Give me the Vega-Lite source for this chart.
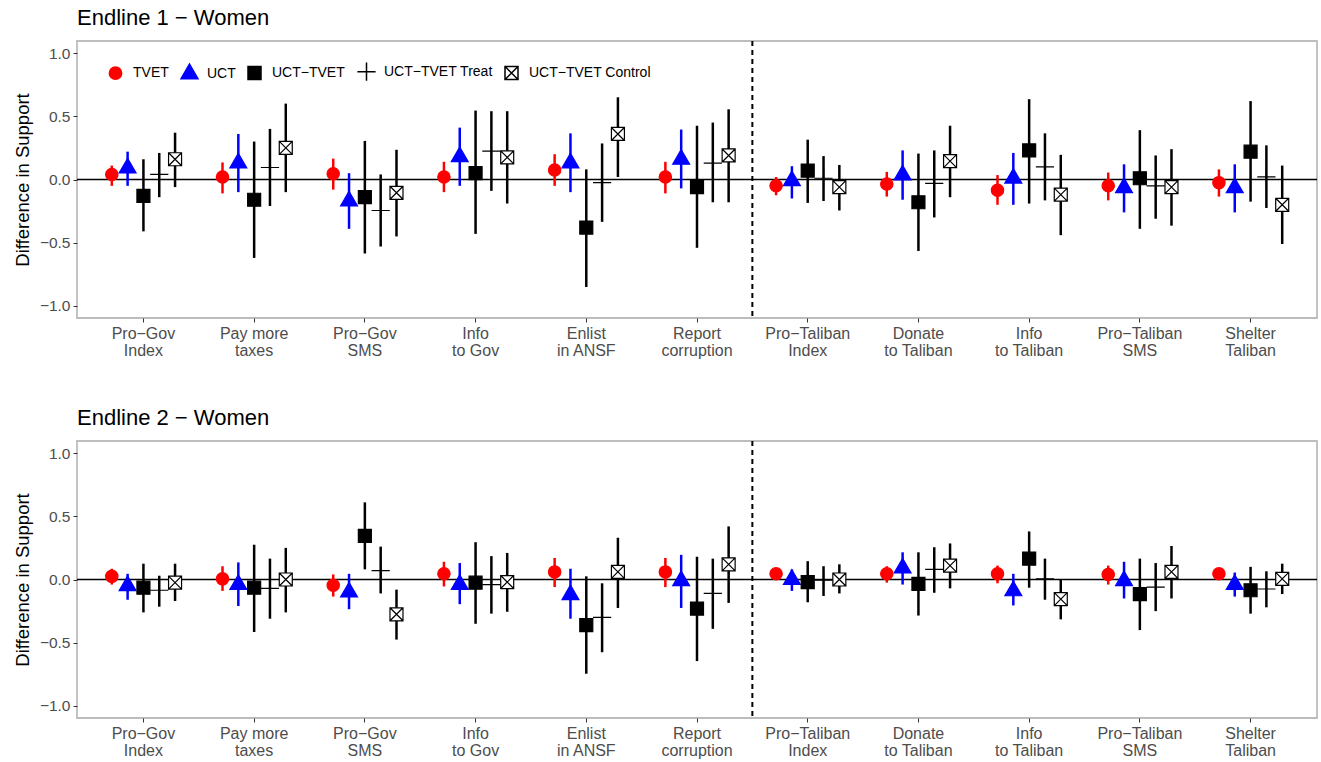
{
  "$schema": "https://vega.github.io/schema/vega-lite/v6.json",
  "padding": {"left": 12, "top": 6, "right": 0, "bottom": 0},
  "spacing": 47,
  "datasets": {
    "e1": [
      {"cat": "Pro−Gov|Index", "s": "TVET", "est": 0.04, "lo": -0.05, "hi": 0.11},
      {"cat": "Pro−Gov|Index", "s": "UCT", "est": 0.09, "lo": -0.05, "hi": 0.22},
      {"cat": "Pro−Gov|Index", "s": "UCT−TVET", "est": -0.13, "lo": -0.41, "hi": 0.16},
      {"cat": "Pro−Gov|Index", "s": "UCT−TVET Treat", "est": 0.04, "lo": -0.14, "hi": 0.21},
      {"cat": "Pro−Gov|Index", "s": "UCT−TVET Control", "est": 0.16, "lo": -0.06, "hi": 0.37},
      {"cat": "Pay more|taxes", "s": "TVET", "est": 0.02, "lo": -0.11, "hi": 0.135},
      {"cat": "Pay more|taxes", "s": "UCT", "est": 0.13, "lo": -0.1, "hi": 0.36},
      {"cat": "Pay more|taxes", "s": "UCT−TVET", "est": -0.16, "lo": -0.62, "hi": 0.3},
      {"cat": "Pay more|taxes", "s": "UCT−TVET Treat", "est": 0.095, "lo": -0.21, "hi": 0.4},
      {"cat": "Pay more|taxes", "s": "UCT−TVET Control", "est": 0.25, "lo": -0.1, "hi": 0.6},
      {"cat": "Pro−Gov|SMS", "s": "TVET", "est": 0.045, "lo": -0.08, "hi": 0.165},
      {"cat": "Pro−Gov|SMS", "s": "UCT", "est": -0.17, "lo": -0.39, "hi": 0.05},
      {"cat": "Pro−Gov|SMS", "s": "UCT−TVET", "est": -0.14, "lo": -0.585, "hi": 0.305},
      {"cat": "Pro−Gov|SMS", "s": "UCT−TVET Treat", "est": -0.245, "lo": -0.53, "hi": 0.04},
      {"cat": "Pro−Gov|SMS", "s": "UCT−TVET Control", "est": -0.105, "lo": -0.45, "hi": 0.235},
      {"cat": "Info|to Gov", "s": "TVET", "est": 0.02, "lo": -0.1, "hi": 0.14},
      {"cat": "Info|to Gov", "s": "UCT", "est": 0.18, "lo": -0.05, "hi": 0.41},
      {"cat": "Info|to Gov", "s": "UCT−TVET", "est": 0.05, "lo": -0.43, "hi": 0.545},
      {"cat": "Info|to Gov", "s": "UCT−TVET Treat", "est": 0.225, "lo": -0.09, "hi": 0.54},
      {"cat": "Info|to Gov", "s": "UCT−TVET Control", "est": 0.175, "lo": -0.19, "hi": 0.54},
      {"cat": "Enlist|in ANSF", "s": "TVET", "est": 0.075, "lo": -0.05, "hi": 0.2},
      {"cat": "Enlist|in ANSF", "s": "UCT", "est": 0.13, "lo": -0.1, "hi": 0.365},
      {"cat": "Enlist|in ANSF", "s": "UCT−TVET", "est": -0.38, "lo": -0.85, "hi": 0.08},
      {"cat": "Enlist|in ANSF", "s": "UCT−TVET Treat", "est": -0.025, "lo": -0.335, "hi": 0.285},
      {"cat": "Enlist|in ANSF", "s": "UCT−TVET Control", "est": 0.36, "lo": 0.02, "hi": 0.65},
      {"cat": "Report|corruption", "s": "TVET", "est": 0.02, "lo": -0.11, "hi": 0.14},
      {"cat": "Report|corruption", "s": "UCT", "est": 0.16, "lo": -0.07, "hi": 0.395},
      {"cat": "Report|corruption", "s": "UCT−TVET", "est": -0.06, "lo": -0.54, "hi": 0.425},
      {"cat": "Report|corruption", "s": "UCT−TVET Treat", "est": 0.13, "lo": -0.18, "hi": 0.45},
      {"cat": "Report|corruption", "s": "UCT−TVET Control", "est": 0.19, "lo": -0.18, "hi": 0.555},
      {"cat": "Pro−Taliban|Index", "s": "TVET", "est": -0.05, "lo": -0.125, "hi": 0.02},
      {"cat": "Pro−Taliban|Index", "s": "UCT", "est": -0.01, "lo": -0.15, "hi": 0.105},
      {"cat": "Pro−Taliban|Index", "s": "UCT−TVET", "est": 0.07, "lo": -0.185, "hi": 0.315},
      {"cat": "Pro−Taliban|Index", "s": "UCT−TVET Treat", "est": 0.01, "lo": -0.17, "hi": 0.185},
      {"cat": "Pro−Taliban|Index", "s": "UCT−TVET Control", "est": -0.06, "lo": -0.245, "hi": 0.115},
      {"cat": "Donate|to Taliban", "s": "TVET", "est": -0.035, "lo": -0.135, "hi": 0.06},
      {"cat": "Donate|to Taliban", "s": "UCT", "est": 0.035, "lo": -0.16, "hi": 0.23},
      {"cat": "Donate|to Taliban", "s": "UCT−TVET", "est": -0.18, "lo": -0.565, "hi": 0.205},
      {"cat": "Donate|to Taliban", "s": "UCT−TVET Treat", "est": -0.03, "lo": -0.3, "hi": 0.23},
      {"cat": "Donate|to Taliban", "s": "UCT−TVET Control", "est": 0.145, "lo": -0.14, "hi": 0.425},
      {"cat": "Info|to Taliban", "s": "TVET", "est": -0.085, "lo": -0.2, "hi": 0.035},
      {"cat": "Info|to Taliban", "s": "UCT", "est": 0.01, "lo": -0.2, "hi": 0.21},
      {"cat": "Info|to Taliban", "s": "UCT−TVET", "est": 0.23, "lo": -0.19, "hi": 0.635},
      {"cat": "Info|to Taliban", "s": "UCT−TVET Treat", "est": 0.1, "lo": -0.165, "hi": 0.365},
      {"cat": "Info|to Taliban", "s": "UCT−TVET Control", "est": -0.12, "lo": -0.44, "hi": 0.195},
      {"cat": "Pro−Taliban|SMS", "s": "TVET", "est": -0.05, "lo": -0.165, "hi": 0.055},
      {"cat": "Pro−Taliban|SMS", "s": "UCT", "est": -0.065, "lo": -0.26, "hi": 0.12},
      {"cat": "Pro−Taliban|SMS", "s": "UCT−TVET", "est": 0.01, "lo": -0.39, "hi": 0.39},
      {"cat": "Pro−Taliban|SMS", "s": "UCT−TVET Treat", "est": -0.05, "lo": -0.31, "hi": 0.19},
      {"cat": "Pro−Taliban|SMS", "s": "UCT−TVET Control", "est": -0.06, "lo": -0.365, "hi": 0.24},
      {"cat": "Shelter|Taliban", "s": "TVET", "est": -0.025, "lo": -0.135, "hi": 0.08},
      {"cat": "Shelter|Taliban", "s": "UCT", "est": -0.065, "lo": -0.26, "hi": 0.12},
      {"cat": "Shelter|Taliban", "s": "UCT−TVET", "est": 0.22, "lo": -0.175, "hi": 0.62},
      {"cat": "Shelter|Taliban", "s": "UCT−TVET Treat", "est": 0.02, "lo": -0.225, "hi": 0.27},
      {"cat": "Shelter|Taliban", "s": "UCT−TVET Control", "est": -0.2, "lo": -0.51, "hi": 0.11}
    ],
    "e2": [
      {"cat": "Pro−Gov|Index", "s": "TVET", "est": 0.025, "lo": -0.04, "hi": 0.085},
      {"cat": "Pro−Gov|Index", "s": "UCT", "est": -0.05, "lo": -0.16, "hi": 0.045},
      {"cat": "Pro−Gov|Index", "s": "UCT−TVET", "est": -0.065, "lo": -0.26, "hi": 0.125},
      {"cat": "Pro−Gov|Index", "s": "UCT−TVET Treat", "est": -0.085, "lo": -0.215, "hi": 0.03},
      {"cat": "Pro−Gov|Index", "s": "UCT−TVET Control", "est": -0.025, "lo": -0.17, "hi": 0.125},
      {"cat": "Pay more|taxes", "s": "TVET", "est": 0.005, "lo": -0.09, "hi": 0.105},
      {"cat": "Pay more|taxes", "s": "UCT", "est": -0.04, "lo": -0.21, "hi": 0.135},
      {"cat": "Pay more|taxes", "s": "UCT−TVET", "est": -0.065, "lo": -0.415, "hi": 0.275},
      {"cat": "Pay more|taxes", "s": "UCT−TVET Treat", "est": -0.07, "lo": -0.31, "hi": 0.165},
      {"cat": "Pay more|taxes", "s": "UCT−TVET Control", "est": 0.0, "lo": -0.26, "hi": 0.25},
      {"cat": "Pro−Gov|SMS", "s": "TVET", "est": -0.045, "lo": -0.135, "hi": 0.04},
      {"cat": "Pro−Gov|SMS", "s": "UCT", "est": -0.1, "lo": -0.235, "hi": 0.045},
      {"cat": "Pro−Gov|SMS", "s": "UCT−TVET", "est": 0.345, "lo": 0.08, "hi": 0.61},
      {"cat": "Pro−Gov|SMS", "s": "UCT−TVET Treat", "est": 0.07, "lo": -0.11, "hi": 0.26},
      {"cat": "Pro−Gov|SMS", "s": "UCT−TVET Control", "est": -0.275, "lo": -0.475, "hi": -0.08},
      {"cat": "Info|to Gov", "s": "TVET", "est": 0.045, "lo": -0.055, "hi": 0.14},
      {"cat": "Info|to Gov", "s": "UCT", "est": -0.04, "lo": -0.195, "hi": 0.13},
      {"cat": "Info|to Gov", "s": "UCT−TVET", "est": -0.025, "lo": -0.35, "hi": 0.295},
      {"cat": "Info|to Gov", "s": "UCT−TVET Treat", "est": -0.04, "lo": -0.27, "hi": 0.185},
      {"cat": "Info|to Gov", "s": "UCT−TVET Control", "est": -0.02, "lo": -0.255, "hi": 0.21},
      {"cat": "Enlist|in ANSF", "s": "TVET", "est": 0.06, "lo": -0.06, "hi": 0.17},
      {"cat": "Enlist|in ANSF", "s": "UCT", "est": -0.12, "lo": -0.31, "hi": 0.085},
      {"cat": "Enlist|in ANSF", "s": "UCT−TVET", "est": -0.36, "lo": -0.745, "hi": 0.025},
      {"cat": "Enlist|in ANSF", "s": "UCT−TVET Treat", "est": -0.3, "lo": -0.575, "hi": -0.03},
      {"cat": "Enlist|in ANSF", "s": "UCT−TVET Control", "est": 0.06, "lo": -0.225, "hi": 0.33},
      {"cat": "Report|corruption", "s": "TVET", "est": 0.06, "lo": -0.06, "hi": 0.17},
      {"cat": "Report|corruption", "s": "UCT", "est": -0.01, "lo": -0.225, "hi": 0.195},
      {"cat": "Report|corruption", "s": "UCT−TVET", "est": -0.23, "lo": -0.645, "hi": 0.18},
      {"cat": "Report|corruption", "s": "UCT−TVET Treat", "est": -0.11, "lo": -0.39, "hi": 0.165},
      {"cat": "Report|corruption", "s": "UCT−TVET Control", "est": 0.12, "lo": -0.185, "hi": 0.42},
      {"cat": "Pro−Taliban|Index", "s": "TVET", "est": 0.045, "lo": 0.01, "hi": 0.08},
      {"cat": "Pro−Taliban|Index", "s": "UCT", "est": 0.0, "lo": -0.09, "hi": 0.08},
      {"cat": "Pro−Taliban|Index", "s": "UCT−TVET", "est": -0.02, "lo": -0.18, "hi": 0.145},
      {"cat": "Pro−Taliban|Index", "s": "UCT−TVET Treat", "est": -0.005, "lo": -0.13, "hi": 0.105},
      {"cat": "Pro−Taliban|Index", "s": "UCT−TVET Control", "est": 0.0, "lo": -0.11, "hi": 0.12},
      {"cat": "Donate|to Taliban", "s": "TVET", "est": 0.045, "lo": -0.025, "hi": 0.105},
      {"cat": "Donate|to Taliban", "s": "UCT", "est": 0.09, "lo": -0.04, "hi": 0.215},
      {"cat": "Donate|to Taliban", "s": "UCT−TVET", "est": -0.035, "lo": -0.285, "hi": 0.215},
      {"cat": "Donate|to Taliban", "s": "UCT−TVET Treat", "est": 0.08, "lo": -0.105, "hi": 0.255},
      {"cat": "Donate|to Taliban", "s": "UCT−TVET Control", "est": 0.11, "lo": -0.07, "hi": 0.285},
      {"cat": "Info|to Taliban", "s": "TVET", "est": 0.045, "lo": -0.03, "hi": 0.11},
      {"cat": "Info|to Taliban", "s": "UCT", "est": -0.09, "lo": -0.205, "hi": 0.045},
      {"cat": "Info|to Taliban", "s": "UCT−TVET", "est": 0.165, "lo": -0.065, "hi": 0.38},
      {"cat": "Info|to Taliban", "s": "UCT−TVET Treat", "est": 0.005, "lo": -0.16, "hi": 0.165},
      {"cat": "Info|to Taliban", "s": "UCT−TVET Control", "est": -0.155, "lo": -0.315, "hi": 0.0},
      {"cat": "Pro−Taliban|SMS", "s": "TVET", "est": 0.04, "lo": -0.04, "hi": 0.11},
      {"cat": "Pro−Taliban|SMS", "s": "UCT", "est": -0.01, "lo": -0.15, "hi": 0.14},
      {"cat": "Pro−Taliban|SMS", "s": "UCT−TVET", "est": -0.115, "lo": -0.4, "hi": 0.165},
      {"cat": "Pro−Taliban|SMS", "s": "UCT−TVET Treat", "est": -0.06, "lo": -0.25, "hi": 0.13},
      {"cat": "Pro−Taliban|SMS", "s": "UCT−TVET Control", "est": 0.06, "lo": -0.15, "hi": 0.265},
      {"cat": "Shelter|Taliban", "s": "TVET", "est": 0.045, "lo": 0.015, "hi": 0.065},
      {"cat": "Shelter|Taliban", "s": "UCT", "est": -0.04, "lo": -0.135, "hi": 0.055},
      {"cat": "Shelter|Taliban", "s": "UCT−TVET", "est": -0.085, "lo": -0.27, "hi": 0.1},
      {"cat": "Shelter|Taliban", "s": "UCT−TVET Treat", "est": -0.075, "lo": -0.22, "hi": 0.065},
      {"cat": "Shelter|Taliban", "s": "UCT−TVET Control", "est": 0.005, "lo": -0.115, "hi": 0.125}
    ]
  },
  "resolve": {
    "scale": {"color": "independent", "stroke": "independent", "fill": "independent", "shape": "independent"},
    "legend": {"color": "independent", "stroke": "independent", "fill": "independent", "shape": "independent"}
  },
  "vconcat": [
    {
      "width": 1240,
      "height": 277,
      "title": {"text": "Endline 1 − Women"},
      "layer": [
        {
          "data": {"values": [{"ref": 0}]},
          "mark": {"type": "rule", "color": "black", "strokeWidth": 1.5},
          "encoding": {"y": {"field": "ref", "type": "quantitative", "scale": {"domain": [-1.095, 1.095], "nice": false, "zero": false}, "axis": {"title": "Difference in Support", "values": [-1, -0.5, 0, 0.5, 1], "format": ".1f"}}}
        },
        {
          "data": {"values": [{"split": "Pro−Taliban|Index"}]},
          "mark": {"type": "rule", "color": "black", "strokeWidth": 2, "strokeDash": [5, 4]},
          "encoding": {"x": {"field": "split", "type": "nominal", "bandPosition": 0, "scale": {"domain": ["Pro−Gov|Index", "Pay more|taxes", "Pro−Gov|SMS", "Info|to Gov", "Enlist|in ANSF", "Report|corruption", "Pro−Taliban|Index", "Donate|to Taliban", "Info|to Taliban", "Pro−Taliban|SMS", "Shelter|Taliban"]}}}
        },
        {
          "data": {"name": "e1"},
          "mark": {"type": "rule", "strokeWidth": 2.5},
          "encoding": {
            "x": {"field": "cat", "type": "nominal", "scale": {"domain": ["Pro−Gov|Index", "Pay more|taxes", "Pro−Gov|SMS", "Info|to Gov", "Enlist|in ANSF", "Report|corruption", "Pro−Taliban|Index", "Donate|to Taliban", "Info|to Taliban", "Pro−Taliban|SMS", "Shelter|Taliban"]}},
            "xOffset": {"field": "s", "type": "nominal", "scale": {"domain": ["TVET", "UCT", "UCT−TVET", "UCT−TVET Treat", "UCT−TVET Control"]}},
            "y": {"field": "lo", "type": "quantitative", "axis": {"title": "Difference in Support", "values": [-1, -0.5, 0, 0.5, 1], "format": ".1f"}},
            "y2": {"field": "hi"},
            "color": {"field": "s", "type": "nominal", "legend": null, "scale": {"domain": ["UCT−TVET Control", "UCT−TVET Treat", "UCT−TVET", "UCT", "TVET"], "range": ["#000000", "#000000", "#000000", "#0000ff", "#ff0000"]}}
          }
        },
        {
          "data": {"name": "e1"},
          "mark": {"type": "point", "filled": true, "opacity": 1, "strokeWidth": 1.2, "size": 169},
          "encoding": {
            "x": {"field": "cat", "type": "nominal", "scale": {"domain": ["Pro−Gov|Index", "Pay more|taxes", "Pro−Gov|SMS", "Info|to Gov", "Enlist|in ANSF", "Report|corruption", "Pro−Taliban|Index", "Donate|to Taliban", "Info|to Taliban", "Pro−Taliban|SMS", "Shelter|Taliban"]}},
            "xOffset": {"field": "s", "type": "nominal", "scale": {"domain": ["TVET", "UCT", "UCT−TVET", "UCT−TVET Treat", "UCT−TVET Control"]}},
            "y": {"field": "est", "type": "quantitative", "axis": {"title": "Difference in Support", "values": [-1, -0.5, 0, 0.5, 1], "format": ".1f"}},
            "stroke": {"field": "s", "type": "nominal", "scale": {"domain": ["TVET", "UCT", "UCT−TVET", "UCT−TVET Treat", "UCT−TVET Control"], "range": ["#ff0000", "#0000ff", "#000000", "#000000", "#000000"]},
              "legend": {"title": null, "orient": "none", "legendX": 31, "legendY": 23, "direction": "horizontal", "symbolSize": 169, "labelFontSize": 14, "labelFont": "Liberation Sans", "labelColor": "black", "labelOffset": 10, "columnPadding": 9, "padding": 0, "symbolStrokeWidth": 1.5}},
            "fill": {"field": "s", "type": "nominal", "scale": {"domain": ["TVET", "UCT", "UCT−TVET", "UCT−TVET Treat", "UCT−TVET Control"], "range": ["#ff0000", "#0000ff", "#000000", "#000000", "#ffffff"]},
              "legend": {"title": null, "orient": "none", "legendX": 31, "legendY": 23, "direction": "horizontal", "symbolSize": 169, "labelFontSize": 14, "labelFont": "Liberation Sans", "labelColor": "black", "labelOffset": 10, "columnPadding": 9, "padding": 0, "symbolStrokeWidth": 1.5}},
            "shape": {"field": "s", "type": "nominal",
              "scale": {"domain": ["TVET", "UCT", "UCT−TVET", "UCT−TVET Treat", "UCT−TVET Control"], "range": ["M0.95,0A0.95,0.95,0,1,1,-0.95,0A0.95,0.95,0,1,1,0.95,0Z", "M0,-1.5L1.3,0.75L-1.3,0.75Z", "M-1,-1H1V1H-1Z", "M-1.4,0H1.4M0,-1.4V1.4", "M-1,-1H1V1H-1ZM-1,-1L1,1M-1,1L1,-1"]},
              "legend": {"title": null, "orient": "none", "legendX": 31, "legendY": 23, "direction": "horizontal", "symbolSize": 169, "labelFontSize": 14, "labelFont": "Liberation Sans", "labelColor": "black", "labelOffset": 10, "columnPadding": 9, "padding": 0, "symbolStrokeWidth": 1.5}}
          }
        }
      ]
    },
    {
      "width": 1240,
      "height": 277,
      "title": {"text": "Endline 2 − Women"},
      "layer": [
        {
          "data": {"values": [{"ref": 0}]},
          "mark": {"type": "rule", "color": "black", "strokeWidth": 1.5},
          "encoding": {"y": {"field": "ref", "type": "quantitative", "scale": {"domain": [-1.095, 1.095], "nice": false, "zero": false}, "axis": {"title": "Difference in Support", "values": [-1, -0.5, 0, 0.5, 1], "format": ".1f"}}}
        },
        {
          "data": {"values": [{"split": "Pro−Taliban|Index"}]},
          "mark": {"type": "rule", "color": "black", "strokeWidth": 2, "strokeDash": [5, 4]},
          "encoding": {"x": {"field": "split", "type": "nominal", "bandPosition": 0, "scale": {"domain": ["Pro−Gov|Index", "Pay more|taxes", "Pro−Gov|SMS", "Info|to Gov", "Enlist|in ANSF", "Report|corruption", "Pro−Taliban|Index", "Donate|to Taliban", "Info|to Taliban", "Pro−Taliban|SMS", "Shelter|Taliban"]}}}
        },
        {
          "data": {"name": "e2"},
          "mark": {"type": "rule", "strokeWidth": 2.5},
          "encoding": {
            "x": {"field": "cat", "type": "nominal", "scale": {"domain": ["Pro−Gov|Index", "Pay more|taxes", "Pro−Gov|SMS", "Info|to Gov", "Enlist|in ANSF", "Report|corruption", "Pro−Taliban|Index", "Donate|to Taliban", "Info|to Taliban", "Pro−Taliban|SMS", "Shelter|Taliban"]}},
            "xOffset": {"field": "s", "type": "nominal", "scale": {"domain": ["TVET", "UCT", "UCT−TVET", "UCT−TVET Treat", "UCT−TVET Control"]}},
            "y": {"field": "lo", "type": "quantitative", "axis": {"title": "Difference in Support", "values": [-1, -0.5, 0, 0.5, 1], "format": ".1f"}},
            "y2": {"field": "hi"},
            "stroke": {"field": "s", "type": "nominal", "legend": null, "scale": {"domain": ["TVET", "UCT", "UCT−TVET", "UCT−TVET Treat", "UCT−TVET Control"], "range": ["#ff0000", "#0000ff", "#000000", "#000000", "#000000"]}}
          }
        },
        {
          "data": {"name": "e2"},
          "mark": {"type": "point", "filled": true, "opacity": 1, "strokeWidth": 1.2, "size": 169},
          "encoding": {
            "x": {"field": "cat", "type": "nominal", "scale": {"domain": ["Pro−Gov|Index", "Pay more|taxes", "Pro−Gov|SMS", "Info|to Gov", "Enlist|in ANSF", "Report|corruption", "Pro−Taliban|Index", "Donate|to Taliban", "Info|to Taliban", "Pro−Taliban|SMS", "Shelter|Taliban"]}},
            "xOffset": {"field": "s", "type": "nominal", "scale": {"domain": ["TVET", "UCT", "UCT−TVET", "UCT−TVET Treat", "UCT−TVET Control"]}},
            "y": {"field": "est", "type": "quantitative", "axis": {"title": "Difference in Support", "values": [-1, -0.5, 0, 0.5, 1], "format": ".1f"}},
            "stroke": {"field": "s", "type": "nominal", "legend": null, "scale": {"domain": ["TVET", "UCT", "UCT−TVET", "UCT−TVET Treat", "UCT−TVET Control"], "range": ["#ff0000", "#0000ff", "#000000", "#000000", "#000000"]}},
            "fill": {"field": "s", "type": "nominal", "legend": null, "scale": {"domain": ["TVET", "UCT", "UCT−TVET", "UCT−TVET Treat", "UCT−TVET Control"], "range": ["#ff0000", "#0000ff", "#000000", "#000000", "#ffffff"]}},
            "shape": {"field": "s", "type": "nominal", "legend": null, "scale": {"domain": ["TVET", "UCT", "UCT−TVET", "UCT−TVET Treat", "UCT−TVET Control"], "range": ["M0.95,0A0.95,0.95,0,1,1,-0.95,0A0.95,0.95,0,1,1,0.95,0Z", "M0,-1.5L1.3,0.75L-1.3,0.75Z", "M-1,-1H1V1H-1Z", "M-1.4,0H1.4M0,-1.4V1.4", "M-1,-1H1V1H-1ZM-1,-1L1,1M-1,1L1,-1"]}}
          }
        }
      ]
    }
  ],
  "config": {
    "font": "Liberation Sans",
    "view": {"stroke": "#bdbdbd", "strokeWidth": 1.8},
    "title": {"anchor": "start", "frame": "group", "fontSize": 22, "fontWeight": "normal", "font": "Liberation Sans", "color": "black", "offset": 10},
    "scale": {
      "bandPaddingInner": 0,
      "bandPaddingOuter": 0.1,
      "offsetBandPaddingInner": 0,
      "offsetBandPaddingOuter": 1.66
    },
    "axis": {
      "grid": false, "domain": false, "tickColor": "#333333", "tickSize": 4, "tickWidth": 1,
      "labelFont": "Liberation Sans", "labelFontSize": 15.5, "labelColor": "#4d4d4d",
      "titleFont": "Liberation Sans", "titleFontSize": 18.5, "titleFontWeight": "normal", "titleColor": "black"
    },
    "axisX": {"title": null, "labelAngle": 0, "labelPadding": 3, "labelFontSize": 16, "labelLineHeight": 17, "labelExpr": "split(datum.value, '|')"},
    "axisY": {"titlePadding": 7, "labelPadding": 3}
  }
}
